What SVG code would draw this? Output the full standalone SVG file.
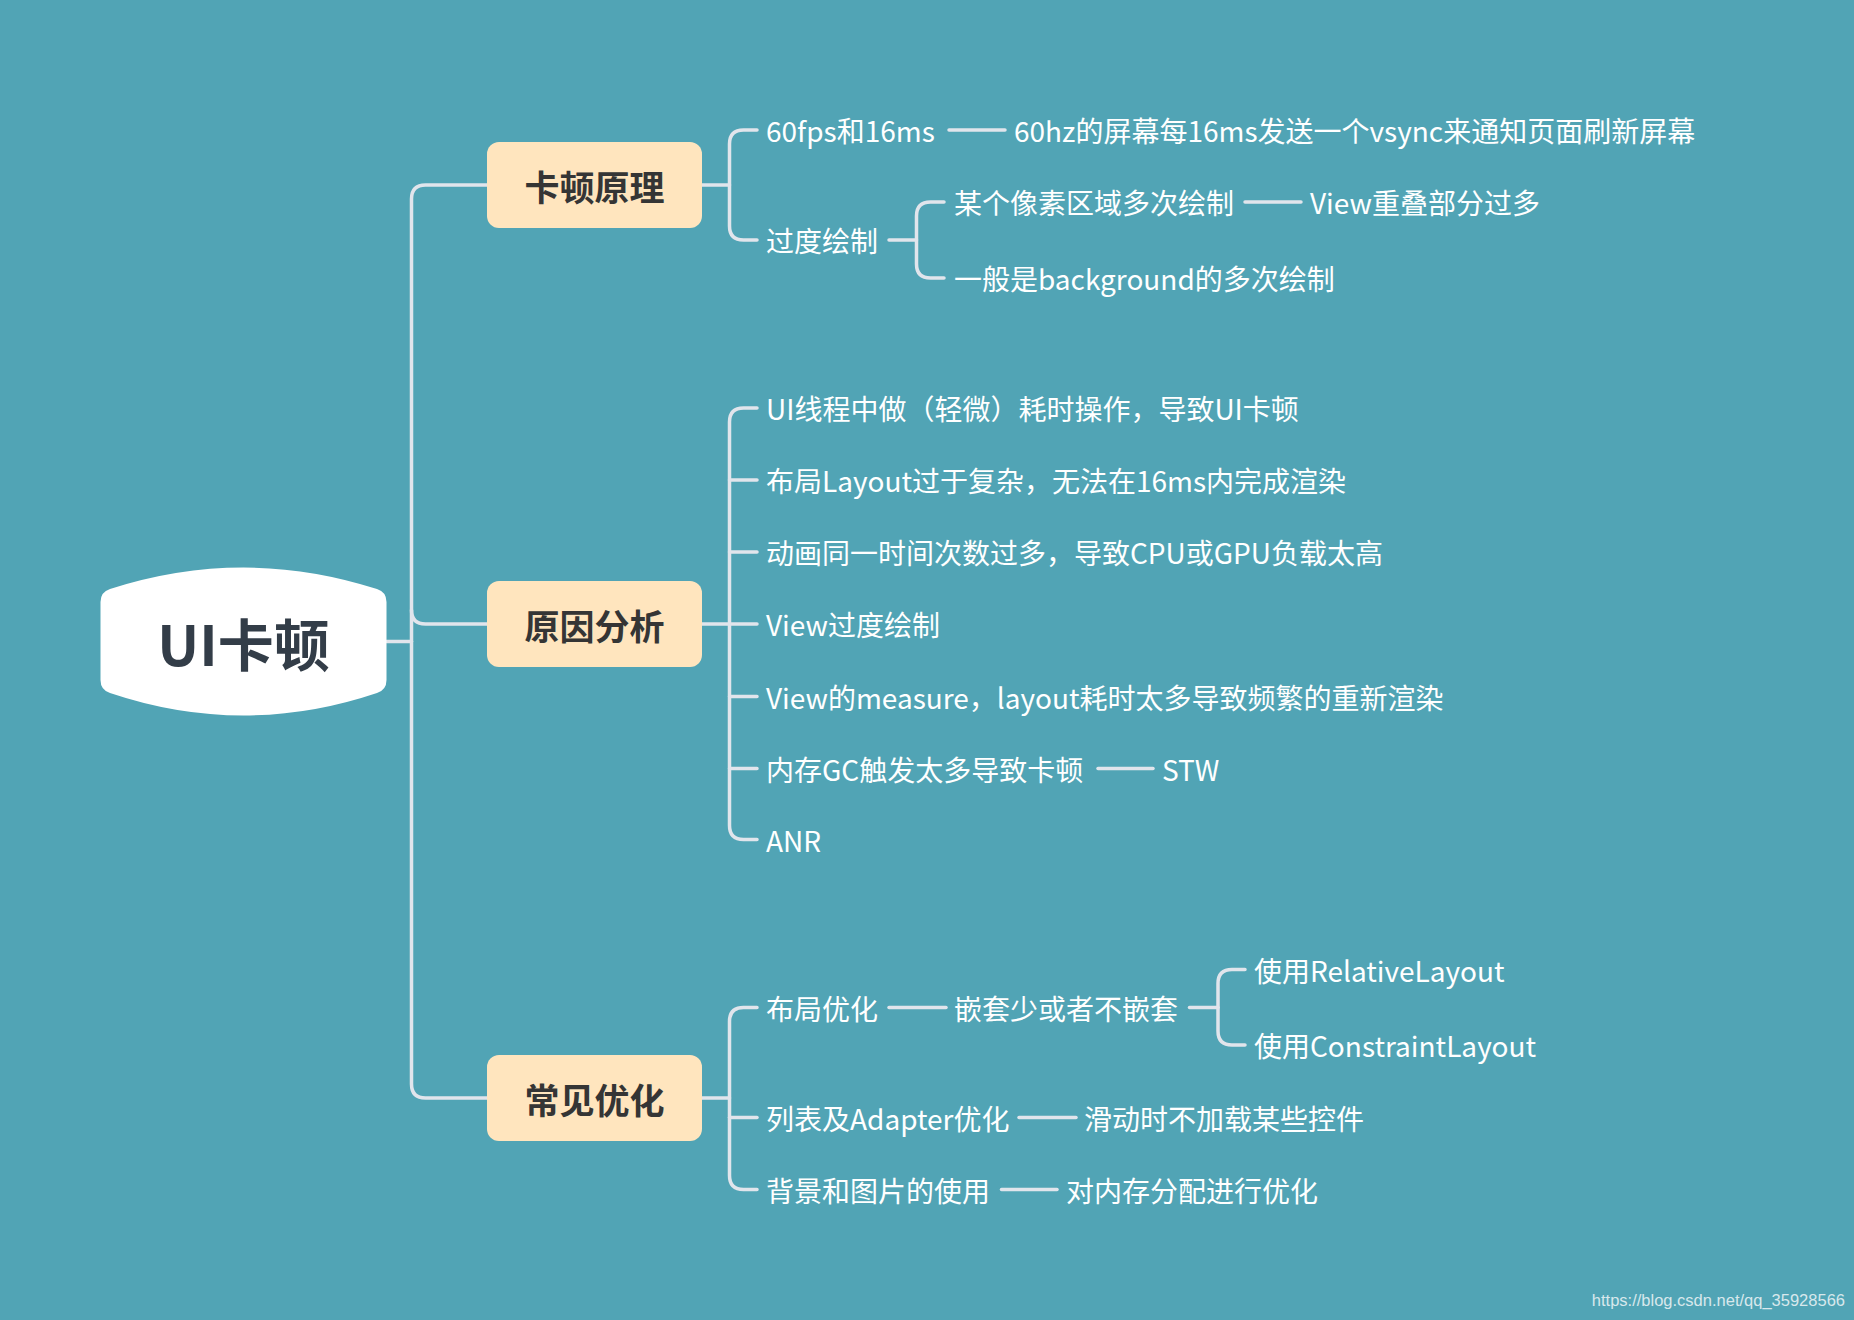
<svg xmlns="http://www.w3.org/2000/svg" width="1854" height="1320" viewBox="0 0 1854 1320">
<style>
.ln{fill:none;stroke:#E1E5EC;stroke-width:3.5;stroke-linecap:round;stroke-linejoin:round}
.t{font-family:"Noto Sans CJK SC","Noto Sans",sans-serif;font-size:28px;fill:#FFFFFF;dominant-baseline:central}
.bt{font-family:"Noto Sans CJK SC","Noto Sans",sans-serif;font-size:35px;font-weight:bold;fill:#353535;text-anchor:middle;dominant-baseline:central}
.box{fill:#FFE5BE}
</style>
<rect x="0" y="0" width="1854" height="1320" fill="#51A4B5"/>
<g id="connectors">
<path class="ln" d="M386.5,641.5 H411.5"/>
<path class="ln" d="M487,185 H425.5 Q411.5,185 411.5,199 V1084 Q411.5,1098 425.5,1098 H487"/>
<path class="ln" d="M411.5,610 Q411.5,624 425.5,624 H487"/>
<path class="ln" d="M702,185 H729.5"/>
<path class="ln" d="M757,130 H743.5 Q729.5,130 729.5,144 V226 Q729.5,240 743.5,240 H757"/>
<path class="ln" d="M949,130 H1005"/>
<path class="ln" d="M889,240 H916.5"/>
<path class="ln" d="M944,202 H930.5 Q916.5,202 916.5,216 V264 Q916.5,278 930.5,278 H944"/>
<path class="ln" d="M1245,202 H1301"/>
<path class="ln" d="M702,624 H757"/>
<path class="ln" d="M757,408 H743.5 Q729.5,408 729.5,422 V825.5 Q729.5,839.5 743.5,839.5 H757"/>
<path class="ln" d="M729.5,480 H757 M729.5,552 H757 M729.5,696.5 H757 M729.5,768.5 H757"/>
<path class="ln" d="M1098,768.5 H1153"/>
<path class="ln" d="M702,1098 H729.5"/>
<path class="ln" d="M757,1007.5 H743.5 Q729.5,1007.5 729.5,1021.5 V1175.5 Q729.5,1189.5 743.5,1189.5 H757"/>
<path class="ln" d="M729.5,1117.5 H757"/>
<path class="ln" d="M889,1007.5 H946"/>
<path class="ln" d="M1189.5,1007.5 H1218"/>
<path class="ln" d="M1245,969.5 H1232 Q1218,969.5 1218,983.5 V1031 Q1218,1045 1232,1045 H1245"/>
<path class="ln" d="M1019,1117.5 H1076"/>
<path class="ln" d="M1001.5,1189.5 H1057"/>
</g>
<g id="root">
<path d="M110,589 Q243.5,546 377,589 Q386.5,592 386.5,602 V680 Q386.5,690 377,693 Q243.5,738 110,693 Q100.5,690 100.5,680 V602 Q100.5,592 110,589 Z" fill="#FFFFFF"/>
<text x="243.5" y="641.5" font-family="'Noto Sans CJK SC','Noto Sans',sans-serif" font-size="56" font-weight="bold" fill="#333D48" text-anchor="middle" dominant-baseline="central">UI卡顿</text>
</g>
<g id="b1">
<rect class="box" x="487" y="142" width="215" height="86" rx="12"/>
<text class="bt" x="594.5" y="185">卡顿原理</text>
</g>
<g id="b2">
<rect class="box" x="487" y="581" width="215" height="86" rx="12"/>
<text class="bt" x="594.5" y="624">原因分析</text>
</g>
<g id="b3">
<rect class="box" x="487" y="1055" width="215" height="86" rx="12"/>
<text class="bt" x="594.5" y="1098">常见优化</text>
</g>
<g id="n1"><text class="t" x="766" y="130">60fps和16ms</text></g>
<g id="n1a"><text class="t" x="1014" y="130">60hz的屏幕每16ms发送一个vsync来通知页面刷新屏幕</text></g>
<g id="n2"><text class="t" x="766" y="240">过度绘制</text></g>
<g id="n2a"><text class="t" x="954" y="202">某个像素区域多次绘制</text></g>
<g id="n2a1"><text class="t" x="1310" y="202">View重叠部分过多</text></g>
<g id="n2b"><text class="t" x="954" y="278">一般是background的多次绘制</text></g>
<g id="r1"><text class="t" x="766" y="408">UI线程中做（轻微）耗时操作，导致UI卡顿</text></g>
<g id="r2"><text class="t" x="766" y="480">布局Layout过于复杂，无法在16ms内完成渲染</text></g>
<g id="r3"><text class="t" x="766" y="552">动画同一时间次数过多，导致CPU或GPU负载太高</text></g>
<g id="r4"><text class="t" x="766" y="624">View过度绘制</text></g>
<g id="r5"><text class="t" x="766" y="696.5">View的measure，layout耗时太多导致频繁的重新渲染</text></g>
<g id="r6"><text class="t" x="766" y="768.5">内存GC触发太多导致卡顿</text></g>
<g id="r6a"><text class="t" x="1162" y="768.5">STW</text></g>
<g id="r7"><text class="t" x="766" y="839.5">ANR</text></g>
<g id="o1"><text class="t" x="766" y="1007.5">布局优化</text></g>
<g id="o1a"><text class="t" x="954" y="1007.5">嵌套少或者不嵌套</text></g>
<g id="o1a1"><text class="t" x="1254" y="969.5">使用RelativeLayout</text></g>
<g id="o1a2"><text class="t" x="1254" y="1045">使用ConstraintLayout</text></g>
<g id="o2"><text class="t" x="766" y="1117.5">列表及Adapter优化</text></g>
<g id="o2a"><text class="t" x="1084" y="1117.5">滑动时不加载某些控件</text></g>
<g id="o3"><text class="t" x="766" y="1189.5">背景和图片的使用</text></g>
<g id="o3a"><text class="t" x="1066" y="1189.5">对内存分配进行优化</text></g>
<text x="1845" y="1300" font-family="'Liberation Sans',Arial,sans-serif" font-size="16.5" fill="#D8E8EC" text-anchor="end" dominant-baseline="central">https://blog.csdn.net/qq_35928566</text>
</svg>
